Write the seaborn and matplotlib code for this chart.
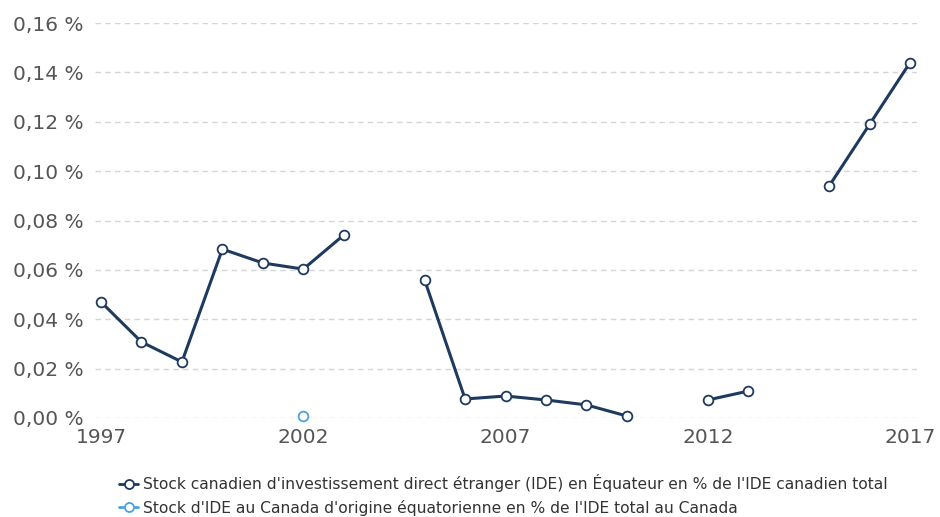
import matplotlib
matplotlib.use("Agg")
import matplotlib.pyplot as plt
import matplotlib.ticker as mticker
import seaborn as sns
import numpy as np
import pandas as pd

years = list(range(1997, 2018))
stock_cdn_equateur = [0.047, 0.0308, 0.0227, 0.0684, 0.0628, 0.0603, 0.0741, np.nan,
                      0.0559, 0.0077, 0.0089, 0.0073, 0.0053, 0.0008, np.nan,
                      0.0073, 0.0109, np.nan, 0.094, 0.119, 0.144]
stock_equateur_cdn = [np.nan] * 5 + [0.001] + [np.nan] * 15

label_a = "Stock canadien d'investissement direct étranger (IDE) en Équateur en % de l'IDE canadien total"
label_b = "Stock d'IDE au Canada d'origine équatorienne en % de l'IDE total au Canada"
x_ticks = [1997, 2002, 2007, 2012, 2017]
y_ticks = [0, 0.02, 0.04, 0.06, 0.08, 0.10, 0.12, 0.14, 0.16]

dark = "#1f3a5f"
light = "#4aa3df"


def segments(vals):
    # new segment id after each gap so lines break at missing years
    s = pd.Series(vals)
    return s.isna().cumsum()


df = pd.DataFrame({"annee": years, "a": stock_cdn_equateur, "b": stock_equateur_cdn})
df["seg_a"] = segments(stock_cdn_equateur)
df["seg_b"] = segments(stock_equateur_cdn)

sns.set_style("white")
plt.rcParams["font.family"] = ["DejaVu Sans"]

fig = plt.figure(figsize=(9.4, 5.17), dpi=100)
ax = fig.add_axes([0.101, 0.1915, 0.8745, 0.764])

style = dict(linewidth=2.2, marker="o", markersize=7, markerfacecolor="white",
             markeredgewidth=1.3, estimator=None, clip_on=False, zorder=3, legend=False)
sns.lineplot(data=df.dropna(subset=["a"]), x="annee", y="a", units="seg_a", ax=ax,
             color=dark, markeredgecolor=dark, **style)
sns.lineplot(data=df.dropna(subset=["b"]), x="annee", y="b", units="seg_b", ax=ax,
             color=light, markeredgecolor=light, **style)

ax.set_xlim(1996.85, 2017.17)
ax.set_ylim(0, 0.16)
ax.set_xticks(x_ticks)
ax.set_yticks(y_ticks)
ax.yaxis.set_major_formatter(mticker.FuncFormatter(lambda v, p: f"{v:.2f} %".replace(".", ",")))
ax.grid(axis="y", color="#d5d5d5", linestyle=(0, (4, 3)), linewidth=1)
ax.grid(axis="x", visible=False)
for s in ax.spines.values():
    s.set_visible(False)
ax.tick_params(axis="both", length=0, labelsize=14.5, colors="#555555")
ax.tick_params(axis="x", pad=7)
ax.tick_params(axis="y", pad=8)
ax.set_xlabel("")
ax.set_ylabel("")

handles = [
    plt.Line2D([], [], color=dark, linewidth=2, marker="o", markersize=6.5,
               markerfacecolor="white", markeredgecolor=dark, markeredgewidth=1.3),
    plt.Line2D([], [], color=light, linewidth=2, marker="o", markersize=6.5,
               markerfacecolor="white", markeredgecolor=light, markeredgewidth=1.3),
]
leg = ax.legend(handles, [label_a, label_b], loc="upper left", bbox_to_anchor=(0.022, -0.126),
                frameon=False, fontsize=11.2, handlelength=1.2, handletextpad=0.35,
                labelspacing=0.5, borderaxespad=0)
for t in leg.get_texts():
    t.set_color("#333333")

fig.savefig("out.png", dpi=100)
